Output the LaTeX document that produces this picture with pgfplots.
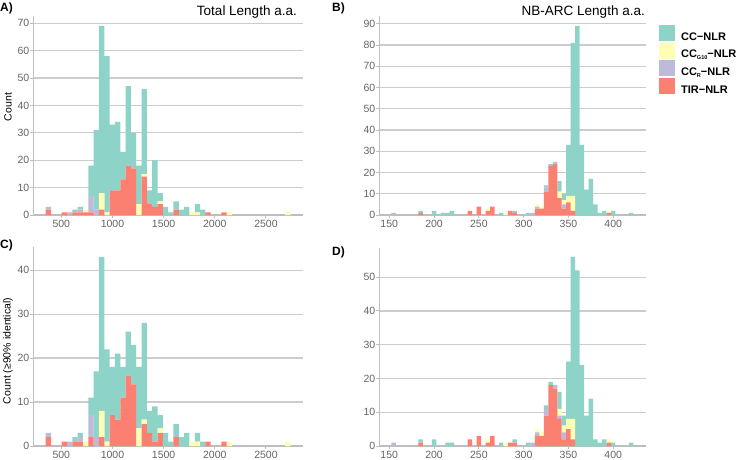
\documentclass[border=0pt]{standalone}
\usepackage{fontspec}
\setmainfont{Liberation Sans}
\usepackage{pgfplots}
\usepackage{pgfplotstable}
\pgfplotsset{compat=1.18}

\definecolor{ccnlr}{HTML}{8DD3C7}
\definecolor{ccg}{HTML}{FFFFB3}
\definecolor{ccr}{HTML}{BEBADA}
\definecolor{tir}{HTML}{FB8072}
\definecolor{gridgray}{RGB}{204,204,204}
\definecolor{axgray}{RGB}{190,190,190}
\definecolor{tickgray}{RGB}{100,100,100}

% tiny subscript as in the legend of the reference
\newcommand{\sub}[1]{\raisebox{-0.35ex}{\fontsize{5.5}{6}\selectfont #1}}

% total length, all NLRs (bin centres, a.a.)
\pgfplotstableread{
x    tir ccr ccg cc
374  2   1   0   0
530  1   0   0   0
582  0   1   0   0
634  1   0   0   1
686  1   1   0   1
738  1   0   1   0
790  1   6   0   11
842  0   2   0   29
894  2   0   6   61
946  0   0   1   57
998  9   0   0   24
1050 9   0   0   25
1102 13  0   0   10
1154 18  0   0   29
1206 17  0   0   13
1258 0   0   4   14
1310 14  0   1   31
1362 4   0   0   5
1414 3   0   0   17
1466 4   0   1   3
1518 0   0   0   3
1570 0   0   0   1
1622 2   0   0   3
1674 0   0   0   2
1726 0   0   0   3
1778 0   0   1   0
1830 0   0   1   3
1882 0   0   0   2
1934 1   0   0   0
2090 1   0   0   0
2142 0   0   1   0
2714 0   0   1   0
}\totalall

% NB-ARC length, all NLRs
\pgfplotstableread{
x   tir ccr ccg cc
155 0   1   0   0
185 1   0   0   1
200 0   0   0   2
210 0   0   0   1
215 0   0   0   1
220 0   0   0   2
240 2   0   0   0
250 4   0   0   0
260 2   0   1   0
265 4   0   0   0
275 0   0   0   1
280 0   0   1   0
285 2   0   0   0
290 1   0   0   1
305 0   0   0   1
310 0   1   0   0
315 3   1   1   0
320 3   0   1   0
325 11  2   0   1
330 23  0   0   1
335 24  1   0   0
340 8   0   3   5
345 3   2   2   3
350 6   0   3   24
355 2   0   7   72
360 0   0   0   89
365 0   0   0   33
370 0   0   0   12
375 0   0   0   17
380 0   0   0   5
385 0   0   0   1
390 0   0   0   2
395 1   0   1   0
400 0   0   0   2
420 0   0   0   1
}\nbarcall

% total length, >=90% identical
\pgfplotstableread{
x    tir ccr ccg cc
374  2   1   0   0
530  1   0   0   0
582  0   1   0   0
634  1   0   0   1
686  1   1   0   1
738  0   0   1   0
790  2   5   0   4
842  0   2   0   15
894  2   0   6   35
946  0   0   1   21
998  7   0   0   11
1050 6   0   0   15
1102 11  0   0   7
1154 16  0   0   10
1206 14  0   0   9
1258 0   0   4   14
1310 5   0   1   22
1362 3   0   0   5
1414 1   0   0   8
1466 3   0   1   3
1518 0   0   0   3
1570 0   0   0   1
1622 2   0   0   3
1674 0   0   0   2
1726 0   0   0   3
1778 0   0   1   0
1830 0   0   1   2
1882 0   0   0   1
1934 1   0   0   0
2090 1   0   0   0
2142 0   0   1   0
2714 0   0   1   0
}\totalident

% NB-ARC length, >=90% identical
\pgfplotstableread{
x   tir ccr ccg cc
155 0   1   0   0
185 1   0   0   1
200 0   0   0   2
215 0   0   0   1
220 0   0   0   1
240 2   0   0   0
250 3   0   0   0
260 1   0   1   0
265 3   0   0   0
275 0   0   0   1
280 0   0   1   0
285 1   0   0   0
290 1   0   0   1
305 0   0   0   1
310 0   1   0   0
315 3   1   1   0
320 3   0   1   0
325 9   2   0   1
330 18  0   0   1
335 17  1   0   0
340 8   1   2   5
345 2   2   2   3
350 5   0   3   17
355 2   0   6   48
360 0   0   0   52
365 0   0   0   24
370 0   0   0   9
375 0   0   0   14
380 0   0   0   2
385 0   0   0   1
390 0   0   0   2
395 1   0   1   0
400 0   0   0   1
420 0   0   0   1
}\nbarcident

\pgfplotsset{
  hist/.style={
    scale only axis, height=198.5pt, anchor=south west,
    ybar stacked, ymin=0, enlargelimits=false,
    axis x line*=bottom, axis y line*=left,
    axis line style={-, line width=1.2pt, color=axgray},
    ymajorgrids, grid style={line width=1.2pt, color=gridgray},
    tick style={line width=1pt, color=axgray},
    major tick length=3pt, tick align=outside,
    ticklabel style={font=\fontsize{10.5}{12}\selectfont, text=tickgray},
    /pgf/number format/assume math mode=true,
    /pgf/number format/1000 sep={},
    yticklabel style={inner sep=1pt},
    xticklabel style={inner sep=1.5pt},
  },
  lenA/.style={hist, width=269.3pt, xmin=228.4, xmax=2859.6,
    bar width=52, xtick={500,1000,...,2500}},
  lenB/.style={hist, width=266.1pt, xmin=139, xmax=436,
    bar width=5, xtick={150,200,...,400}},
  sq/.style={draw=none, fill=#1,
    legend image code/.code={\fill[##1] (0pt,-4pt) rectangle (16pt,12pt);}},
}

\begin{document}
\begin{tikzpicture}
\useasboundingbox (0,0) rectangle (737pt,459pt);

% A) total length
\begin{axis}[lenA, at={(33.5pt,244pt)}, ymax=72.45, ytick={0,10,...,70}]
  \addplot[fill=tir, draw=none] table[x=x, y=tir] {\totalall};
  \addplot[fill=ccr, draw=none] table[x=x, y=ccr] {\totalall};
  \addplot[fill=ccg, draw=none] table[x=x, y=ccg] {\totalall};
  \addplot[fill=ccnlr, draw=none] table[x=x, y=cc] {\totalall};
\end{axis}

% B) NB-ARC length, carries the legend
\begin{axis}[lenB, at={(379.4pt,244pt)}, ymax=93.45, ytick={0,10,...,90},
    legend cell align=left,
    legend style={draw=none, fill=none, at={(axis description cs:1,1)},
      anchor=north west, xshift=13.4pt, yshift=-8.5pt, inner sep=0pt,
      row sep=1pt, column sep=6pt,
      font=\bfseries\fontsize{11}{13}\selectfont,
      nodes={inner sep=0pt}}]
  \addlegendimage{sq=ccnlr}
  \addlegendentry{CC−NLR}
  \addlegendimage{sq=ccg}
  \addlegendentry{CC\sub{G10}−NLR}
  \addlegendimage{sq=ccr}
  \addlegendentry{CC\sub{R}−NLR}
  \addlegendimage{sq=tir}
  \addlegendentry{TIR−NLR}
  \addplot[fill=tir, draw=none] table[x=x, y=tir] {\nbarcall};
  \addplot[fill=ccr, draw=none] table[x=x, y=ccr] {\nbarcall};
  \addplot[fill=ccg, draw=none] table[x=x, y=ccg] {\nbarcall};
  \addplot[fill=ccnlr, draw=none] table[x=x, y=cc] {\nbarcall};
\end{axis}

% C) total length, >=90% identical
\begin{axis}[lenA, at={(33.5pt,13pt)}, ymax=45.15, ytick={0,10,...,40}]
  \addplot[fill=tir, draw=none] table[x=x, y=tir] {\totalident};
  \addplot[fill=ccr, draw=none] table[x=x, y=ccr] {\totalident};
  \addplot[fill=ccg, draw=none] table[x=x, y=ccg] {\totalident};
  \addplot[fill=ccnlr, draw=none] table[x=x, y=cc] {\totalident};
\end{axis}

% D) NB-ARC length, >=90% identical
\begin{axis}[lenB, at={(379.4pt,13pt)}, ymax=58.8, ytick={0,10,...,50}]
  \addplot[fill=tir, draw=none] table[x=x, y=tir] {\nbarcident};
  \addplot[fill=ccr, draw=none] table[x=x, y=ccr] {\nbarcident};
  \addplot[fill=ccg, draw=none] table[x=x, y=ccg] {\nbarcident};
  \addplot[fill=ccnlr, draw=none] table[x=x, y=cc] {\nbarcident};
\end{axis}

% titles, panel letters, y labels
\node[anchor=east, inner sep=0pt, font=\fontsize{13.5}{16}\selectfont] at (297pt,447pt) {Total Length a.a.};
\node[anchor=east, inner sep=0pt, font=\fontsize{13.5}{16}\selectfont] at (645pt,447pt) {NB-ARC Length a.a.};
\node[anchor=west, inner sep=0pt, font=\bfseries\fontsize{12}{14}\selectfont] at (0pt,451pt) {A)};
\node[anchor=west, inner sep=0pt, font=\bfseries\fontsize{12}{14}\selectfont] at (332pt,451pt) {B)};
\node[anchor=west, inner sep=0pt, font=\bfseries\fontsize{12}{14}\selectfont] at (0pt,214pt) {C)};
\node[anchor=west, inner sep=0pt, font=\bfseries\fontsize{12}{14}\selectfont] at (332pt,207pt) {D)};
\node[rotate=90, inner sep=0pt, font=\fontsize{10.5}{12}\selectfont] at (8pt,352pt) {Count};
\node[rotate=90, inner sep=0pt, font=\fontsize{10.5}{12}\selectfont] at (8pt,108pt) {Count (≥90\% identical)};
\end{tikzpicture}
\end{document}
